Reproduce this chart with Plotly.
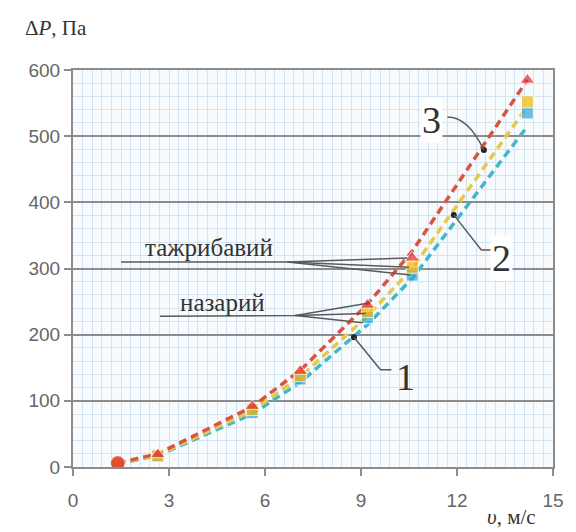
import plotly.graph_objects as go

# Velocity, m/s
v = [1.4, 2.65, 5.6, 7.1, 9.2, 10.6, 14.2]
# Experimental pressure drop, Pa
exp1 = [4, 16, 82, 133, 226, 290, 535]
exp2 = [5, 17, 87, 138, 235, 302, 552]
exp3 = [6, 19, 92, 145, 245, 316, 585]
# Theoretical pressure drop, Pa
th1 = [5, 17, 80, 128, 215, 285, 515]
th2 = [5, 18, 85, 136, 228, 300, 545]
th3 = [6, 20, 91, 146, 246, 326, 585]

x_ticks = [0, 3, 6, 9, 12, 15]
y_ticks = [0, 100, 200, 300, 400, 500, 600]

# Label points on curves
lab_x = [8.78, 11.9, 12.84]
lab_y = [196, 381, 479]

c_blue = "#35A8D8"
c_yel = "#F2B705"
c_red = "#E8262B"

fig = go.Figure()

fig.add_trace(go.Scatter(x=v, y=th1, mode="lines",
                         line=dict(color="#43B6C9", width=3.5, dash="8px,5px")))
fig.add_trace(go.Scatter(x=v, y=th2, mode="lines",
                         line=dict(color="#E6C94A", width=3.5, dash="8px,5px")))
fig.add_trace(go.Scatter(x=v, y=th3, mode="lines",
                         line=dict(color="#D9553F", width=3.5, dash="8px,5px")))

sym_sq = ["circle"] + ["square"] * (len(v) - 1)
sym_tr = ["circle"] + ["triangle-up"] * (len(v) - 1)
size_sq = [14] + [12] * (len(v) - 1)
size_tr = [15] + [13] * (len(v) - 1)
fig.add_trace(go.Scatter(x=v, y=exp1, mode="markers",
                         marker=dict(color=c_blue, size=size_sq, symbol=sym_sq)))
fig.add_trace(go.Scatter(x=v, y=exp2, mode="markers",
                         marker=dict(color=c_yel, size=size_sq, symbol=sym_sq)))
fig.add_trace(go.Scatter(x=v, y=exp3, mode="markers",
                         marker=dict(color=c_red, size=size_tr, symbol=sym_tr)))

fig.add_trace(go.Scatter(x=lab_x, y=lab_y, mode="markers",
                         marker=dict(color="#222222", size=6)))

line_c = "#5a5a5a"
shapes = [
    # тажрибавий leaders
    dict(type="path", path="M 1.5,310 L 6.7,310 L 10.45,316", line=dict(color=line_c, width=1.5)),
    dict(type="line", x0=6.7, y0=310, x1=10.5, y1=302, line=dict(color=line_c, width=1.5)),
    dict(type="line", x0=6.7, y0=310, x1=10.55, y1=290, line=dict(color=line_c, width=1.5)),
    # назарий leaders
    dict(type="path", path="M 2.72,228 L 6.95,229 L 9.25,248", line=dict(color=line_c, width=1.5)),
    dict(type="line", x0=6.95, y0=229, x1=9.15, y1=232, line=dict(color=line_c, width=1.5)),
    dict(type="line", x0=6.95, y0=229, x1=9.05, y1=218, line=dict(color=line_c, width=1.5)),
    # 1, 2, 3 leaders
    dict(type="path", path="M 8.78,196 L 9.61,147 L 9.95,147", line=dict(color=line_c, width=1.5)),
    dict(type="path", path="M 11.9,381 L 12.76,328 L 13.07,328", line=dict(color=line_c, width=1.5)),
    dict(type="path", path="M 11.7,529 Q 12.35,529 12.84,479", line=dict(color=line_c, width=1.5)),
]

serif = "Liberation Serif"
ann = [
    dict(x=-0.105, y=1.105, xref="paper", yref="paper", text="Δ<i>P</i>, Па", showarrow=False,
         xanchor="left", yanchor="middle", font=dict(family=serif, size=21, color="#333333")),
    dict(x=4.25, y=331, text="тажрибавий", showarrow=False,
         font=dict(family=serif, size=25, color="#333333")),
    dict(x=4.68, y=249, text="назарий", showarrow=False,
         font=dict(family=serif, size=25, color="#333333")),
    dict(x=10.38, y=136, text="1", showarrow=False,
         font=dict(family=serif, size=38, color="#333333")),
    dict(x=13.38, y=316, text="2", showarrow=False, bgcolor="white",
         font=dict(family=serif, size=38, color="#333333")),
    dict(x=11.2, y=524, text="3", showarrow=False, bgcolor="white",
         font=dict(family=serif, size=38, color="#333333")),
    dict(x=13.7, y=-0.125, xref="x", yref="paper", text="<i>υ</i>, м/с",
         showarrow=False, yanchor="middle",
         font=dict(family=serif, size=21, color="#333333")),
]

fig.update_layout(
    width=576, height=532,
    margin=dict(l=73, r=13, t=70, b=65),
    paper_bgcolor="white",
    plot_bgcolor="#F7FBFE",
    showlegend=False,
    shapes=shapes,
    annotations=ann,
    font=dict(family="Liberation Sans", size=19, color="#666666"),
)
fig.update_xaxes(
    range=[0, 15], tickvals=x_ticks, showgrid=False,
    showline=True, linecolor="#8c8c8c", linewidth=2, mirror=True,
    ticks="outside", ticklen=7, tickwidth=2, tickcolor="#8c8c8c",
    ticklabelstandoff=8,
    minor=dict(dtick=0.3, showgrid=True, gridcolor="#D3E3F2", gridwidth=1),
    zeroline=False,
)
fig.update_yaxes(
    range=[0, 600], tickvals=y_ticks, showgrid=True, gridcolor="#8c8c8c", gridwidth=2,
    showline=True, linecolor="#8c8c8c", linewidth=2, mirror=True,
    ticks="outside", ticklen=7, tickwidth=2, tickcolor="#8c8c8c",
    minor=dict(dtick=20, showgrid=True, gridcolor="#D3E3F2", gridwidth=1),
    zeroline=False,
)

fig.write_html("out.html")
